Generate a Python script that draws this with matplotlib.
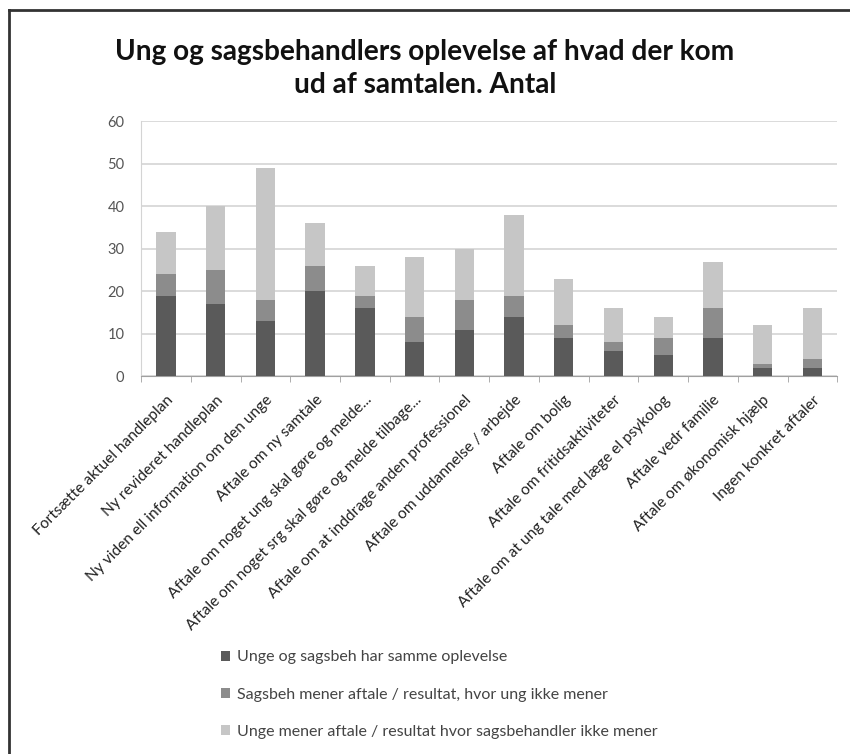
import numpy as np
import matplotlib.pyplot as plt
from matplotlib.lines import Line2D

categories = [
    'Fortsætte aktuel handleplan',
    'Ny revideret handleplan',
    'Ny viden ell information om den unge',
    'Aftale om ny samtale',
    'Aftale om noget ung skal gøre og melde...',
    'Aftale om noget srg skal gøre og melde tilbage...',
    'Aftale om at inddrage anden professionel',
    'Aftale om uddannelse / arbejde',
    'Aftale om bolig',
    'Aftale om fritidsaktiviteter',
    'Aftale om at ung tale med læge el psykolog',
    'Aftale vedr familie',
    'Aftale om økonomisk hjælp',
    'Ingen konkret aftaler',
]
samme = [19, 17, 13, 20, 16, 8, 11, 14, 9, 6, 5, 9, 2, 2]
sagsbeh = [5, 8, 5, 6, 3, 6, 7, 5, 3, 2, 4, 7, 1, 2]
unge = [10, 15, 31, 10, 7, 14, 12, 19, 11, 8, 5, 11, 9, 12]
series_names = [
    'Unge og sagsbeh har samme oplevelse',
    'Sagsbeh mener aftale / resultat, hvor ung ikke mener',
    'Unge mener aftale / resultat hvor sagsbehandler ikke mener',
]
colors = ['#5a5a5a', '#8c8c8c', '#c6c6c6']
yticks = [0, 10, 20, 30, 40, 50, 60]

plt.rcParams['font.family'] = ['Lato', 'DejaVu Sans']

fig = plt.figure(figsize=(8.5, 7.54), dpi=100)
ax = fig.add_axes([0.166, 0.501, 0.819, 0.338])

x = np.arange(len(categories))
bottom = np.zeros(len(categories))
for vals, name, c in zip([samme, sagsbeh, unge], series_names, colors):
    ax.bar(x, vals, 0.39, bottom=bottom, color=c, label=name, zorder=3)
    bottom += np.array(vals)

ax.set_xlim(-0.5, len(categories) - 0.5)
ax.set_ylim(0, 60)
ax.set_yticks(yticks)
ax.yaxis.grid(True, color='#d4d4d4', linewidth=1.2, zorder=0)
ax.tick_params(axis='y', length=0, pad=12, labelsize=10.5, labelcolor='#555555')

ax.set_xticks(x)
ax.set_xticklabels(categories, rotation=45, ha='right', va='top',
                   rotation_mode='anchor', fontsize=11.2, color='#222222')
ax.tick_params(axis='x', length=0, pad=12)
ax.set_xticks(np.arange(len(categories) + 1) - 0.5, minor=True)
ax.tick_params(axis='x', which='minor', length=4, color='#a0a0a0', direction='out')

for s in ['top', 'right']:
    ax.spines[s].set_visible(False)
ax.spines['bottom'].set_color('#a0a0a0')
ax.spines['left'].set_color('#d4d4d4')

fig.text(0.5, 0.909, 'Ung og sagsbehandlers oplevelse af hvad der kom\nud af samtalen. Antal',
         ha='center', va='center', fontsize=20.2, fontweight='bold',
         linespacing=1.3, color='#111111')

leg = ax.legend(loc='upper left', bbox_to_anchor=(207 / 850, 1 - 636 / 754),
                bbox_transform=fig.transFigure, frameon=False, fontsize=11.5,
                handlelength=0.55, handleheight=0.55, handletextpad=0.4,
                labelspacing=1.45)
for t in leg.get_texts():
    t.set_color('#444444')

# frame edges at left and top of the picture
fig.add_artist(Line2D([9 / 850, 9 / 850], [0, 1 - 10 / 754], color='#333333',
                      linewidth=2, transform=fig.transFigure))
fig.add_artist(Line2D([9 / 850, 1], [1 - 10 / 754, 1 - 10 / 754], color='#333333',
                      linewidth=2, transform=fig.transFigure))

fig.savefig('out.png', dpi=100)
